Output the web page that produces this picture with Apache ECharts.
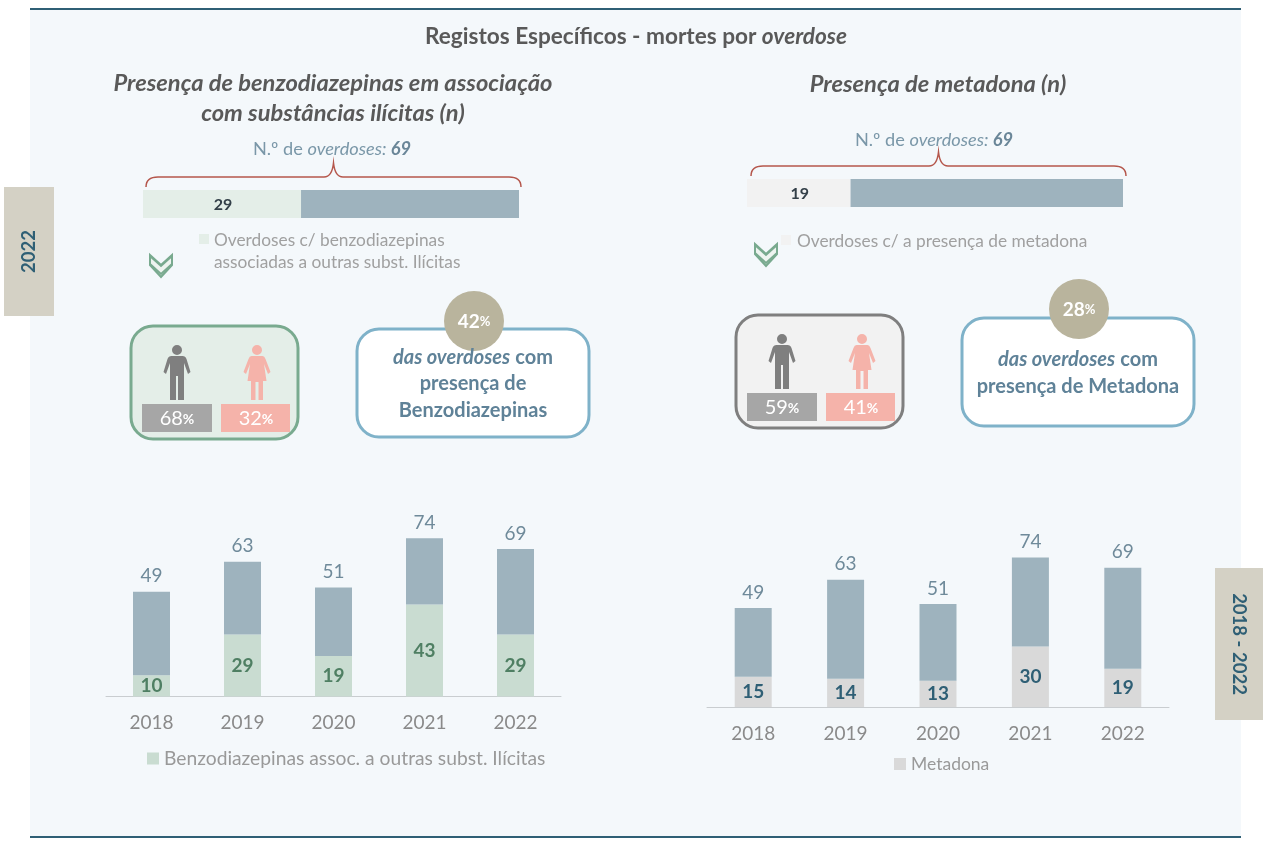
<!DOCTYPE html>
<html lang="pt">
<head>
<meta charset="utf-8">
<title>Registos Específicos - mortes por overdose</title>
<script src="https://cdn.jsdelivr.net/npm/echarts@6/dist/echarts.min.js"></script>
<style>
  html, body { margin: 0; padding: 0; background: #fff; }
  #chart { width: 1263px; height: 843px; }
</style>
</head>
<body>
<div id="chart"></div>
<script>
const years = ['2018', '2019', '2020', '2021', '2022'];
const totals = [49, 63, 51, 74, 69];
const benzo = [10, 29, 19, 43, 29];
const benzoRest = [39, 34, 32, 31, 40];
const metadona = [15, 14, 13, 30, 19];
const metadonaRest = [34, 49, 38, 44, 50];

const benzo2022 = [29];
const benzo2022Rest = [40];
const metadona2022 = [19];
const metadona2022Rest = [50];

const benzoName = 'Benzodiazepinas assoc. a outras subst. Ilícitas';
const metadonaName = 'Metadona';

const FONT = 'Lato, "Open Sans", sans-serif';
const BLUE = '#9eb3be';
const TEAL = '#2f5f75';

// the graphic component has no plain path type, so the svg outlines get registered as shapes
const shapes = {
  man: 'M13.5 0a5 5 0 1 0 .01 0ZM8 11H19Q22 11 23 14L27 27L24.5 29L20.5 18V55H14.5V31H12.5V55H6.5V18L2.5 29L0 27L4 14Q5 11 8 11Z',
  woman: 'M13.5 0a5 5 0 1 0 .01 0ZM8 11H19Q21 11 22 14L27 27L24.5 29L20.5 19L23 36H19.5V55H15V37H12V55H7.5V36H4L6.5 19L2.5 29L0 27L5 14Q6 11 8 11Z',
  brace: 'M0 24Q0 14 12 14H178Q186 14 187.5 0Q189 14 197 14H363Q375 14 375 24',
  chevronTop: 'M1 1L12 11L23 1V11L12 23L1 11Z',
  chevronBottom: 'M1 2V10L12 20L23 10V2L12 12Z',
};
Object.keys(shapes).forEach((name) => {
  echarts.graphic.registerShape(name, echarts.graphic.extendPath(shapes[name]));
});

// helpers for the decoration around the charts
const rect = (x, y, width, height, fill, extra) => ({
  type: 'rect',
  shape: { x, y, width, height, r: (extra && extra.r) || 0 },
  style: { fill, stroke: extra && extra.stroke, lineWidth: (extra && extra.lineWidth) || 0 },
  z: (extra && extra.z) || 10,
});
const text = (x, y, str, font, fill, align, rich) => ({
  type: 'text',
  x,
  y,
  z: 20,
  style: {
    text: str,
    font: font + ' ' + FONT,
    fill,
    align: align || 'center',
    verticalAlign: 'middle',
    rich,
  },
});
const path = (x, y, type, style) => ({
  type,
  x,
  y,
  z: 12,
  shape: {},
  style,
});
const sideTab = (x, y, w, h, str, rotation) => [
  rect(x, y, w, h, '#d4d1c5'),
  Object.assign(text(x + w / 2, y + h / 2, str, 'bold 18.5px', TEAL), { rotation }),
];
const brace = (x, y) => path(x, y, 'brace', {
  fill: 'none',
  stroke: '#b5574c',
  lineWidth: 1.5,
});
const chevron = (x, y) => [
  path(x, y, 'chevronTop', { fill: '#e4eee8', stroke: '#79aa8f', lineWidth: 2 }),
  path(x, y, 'chevronBottom', { fill: '#eef4f0', stroke: '#79aa8f', lineWidth: 2 }),
];
const genderBox = (x, y, w, h, fill, stroke, manX, womanX, iconY, tileY, greyX, pinkX, manPct, womanPct) => {
  const pctRich = {
    n: { font: '20px ' + FONT, fill: '#fff' },
    p: { font: 'bold 14px ' + FONT, fill: '#fff' },
  };
  return [
    rect(x, y, w, h, fill, { r: 22, stroke, lineWidth: 3 }),
    path(manX - 13.5, iconY, 'man', { fill: '#7f7f7f' }),
    path(womanX - 13.5, iconY, 'woman', { fill: '#f5b3aa' }),
    rect(greyX, tileY, 70, 28, '#a6a6a6'),
    rect(pinkX, tileY, 69, 28, '#f5b3aa'),
    text(greyX + 35, tileY + 15, '{n|' + manPct + '}{p|%}', '20px', '#fff', 'center', pctRich),
    text(pinkX + 35, tileY + 15, '{n|' + womanPct + '}{p|%}', '20px', '#fff', 'center', pctRich),
  ];
};
const callout = (x, y, w, h, cx, cy, pct, lines, lineY) => {
  const rich = {
    i: { font: 'italic bold 20px ' + FONT, fill: '#5f8298' },
    b: { font: 'bold 20px ' + FONT, fill: '#5f8298' },
  };
  const pctRich = {
    n: { font: 'bold 19px ' + FONT, fill: '#fff' },
    p: { font: 'bold 13px ' + FONT, fill: '#fff' },
  };
  return [
    rect(x, y, w, h, '#fff', { r: 22, stroke: '#7fb2c9', lineWidth: 3 }),
    {
      type: 'circle',
      z: 15,
      shape: { cx, cy, r: 30 },
      style: { fill: '#b9b49d' },
    },
    text(cx, cy + 1, '{n|' + pct + '}{p|%}', '19px', '#fff', 'center', pctRich),
    ...lines.map((line, i) => text(x + w / 2, lineY[i], line, '20px', '#5f8298', 'center', rich)),
  ];
};

const overdoseRich = {
  a: { font: '18.2px ' + FONT, fill: '#7a97a8' },
  i: { font: 'italic 18.2px ' + FONT, fill: '#7a97a8' },
  b: { font: 'italic bold 18.2px ' + FONT, fill: '#6a8698' },
};
const titleRich = {
  a: { font: 'bold 22.6px ' + FONT, fill: '#595959' },
  i: { font: 'italic bold 22.6px ' + FONT, fill: '#595959' },
};
const SUB = 'italic bold 23.7px';
const NOTE = '17.3px';

const graphics = [
  rect(30, 9, 1211, 828, '#f4f8fb', { z: -10 }),
  rect(30, 8, 1211, 2, TEAL),
  rect(30, 836, 1211, 2, TEAL),
  ...sideTab(4, 187, 50, 129, '2022', Math.PI / 2),
  ...sideTab(1215, 568, 48, 152, '2018 - 2022', -Math.PI / 2),

  text(636, 37, '{a|Registos Específicos - mortes por }{i|overdose}', '22.6px', '#595959', 'center', titleRich),
  text(333, 83, 'Presença de benzodiazepinas em associação', SUB, '#595959'),
  text(333, 113, 'com substâncias ilícitas (n)', SUB, '#595959'),
  text(938, 84, 'Presença de metadona (n)', SUB, '#595959'),

  text(332, 149, '{a|N.º de }{i|overdoses: }{b|69}', '18.2px', '#7a97a8', 'center', overdoseRich),
  text(934, 140, '{a|N.º de }{i|overdoses: }{b|69}', '18.2px', '#7a97a8', 'center', overdoseRich),
  brace(146, 163),
  brace(751, 152),

  rect(199, 234, 10, 10, '#e4eee8'),
  text(214, 240, 'Overdoses c/ benzodiazepinas', NOTE, '#a0a0a0', 'left'),
  text(214, 262, 'associadas a outras subst. Ilícitas', NOTE, '#a0a0a0', 'left'),
  rect(781, 235, 10, 10, '#f2f2f2'),
  text(797, 241, 'Overdoses c/ a presença de metadona', NOTE, '#a0a0a0', 'left'),
  ...chevron(149, 254),
  ...chevron(754, 243),

  ...genderBox(131, 326, 167, 113, '#e4eee8', '#79aa8f', 177, 257, 345, 404, 142, 221, '68', '32'),
  ...genderBox(736, 315, 167, 113, '#f2f2f2', '#7f7f7f', 782, 862, 334, 393, 747, 826, '59', '41'),

  ...callout(357, 329, 232, 108, 474, 321, '42',
    ['{i|das overdoses} {b|com}', '{b|presença de}', '{b|Benzodiazepinas}'], [358, 384, 411]),
  ...callout(962, 318, 232, 108, 1079, 309, '28',
    ['{i|das overdoses} {b|com}', '{b|presença de Metadona}'], [360, 387]),
];

// horizontal 100% bar (2022)
const hBar = (index, name, data, color, withLabel) => ({
  name,
  type: 'bar',
  stack: 'h' + index,
  xAxisIndex: index,
  yAxisIndex: index,
  barWidth: '100%',
  data,
  silent: true,
  itemStyle: { color },
  label: {
    show: withLabel,
    position: 'inside',
    offset: [1, 1],
    color: '#333f48',
    fontFamily: FONT,
    fontWeight: 'bold',
    fontSize: 16,
  },
});
// yearly stacked columns
const columnPair = (index, name, data, rest, color, labelColor) => [
  {
    name,
    type: 'bar',
    stack: 'c' + index,
    xAxisIndex: index,
    yAxisIndex: index,
    barWidth: 37,
    data,
    itemStyle: { color },
    label: {
      show: true,
      position: 'inside',
      color: labelColor,
      fontFamily: FONT,
      fontWeight: 'bold',
      fontSize: 19,
    },
  },
  {
    name: name + ' total',
    type: 'bar',
    stack: 'c' + index,
    xAxisIndex: index,
    yAxisIndex: index,
    barWidth: 37,
    data: rest,
    itemStyle: { color: BLUE },
    label: {
      show: true,
      position: 'top',
      distance: 6,
      color: '#6f8a9a',
      fontFamily: FONT,
      fontSize: 19,
      formatter: (p) => totals[p.dataIndex],
    },
  },
];
const columnX = (gridIndex) => ({
  type: 'category',
  gridIndex,
  data: years,
  axisTick: { show: false },
  axisLine: { lineStyle: { color: '#c9cdd0', width: 1 } },
  axisLabel: { color: '#8a8a8a', fontFamily: FONT, fontSize: 19, margin: 17 },
});
const columnY = (gridIndex) => ({
  type: 'value',
  gridIndex,
  min: 0,
  max: 80,
  show: false,
  splitLine: { show: false },
});
const legendFor = (name, left, top, fontSize) => ({
  data: [name],
  left,
  top,
  icon: 'rect',
  itemWidth: 12,
  itemHeight: 12,
  itemGap: 0,
  selectedMode: false,
  padding: 0,
  textStyle: { color: '#999', fontFamily: FONT, fontSize },
});

const chart = echarts.init(document.getElementById('chart'));
chart.setOption({
  animation: false,
  backgroundColor: '#fff',
  graphic: { elements: graphics },
  legend: [
    legendFor(benzoName, 147, 749, 19.25),
    legendFor(metadonaName, 894, 755, 17.5),
  ],
  grid: [
    { left: 143, top: 190, width: 376, height: 28 },
    { left: 747, top: 179, width: 376, height: 28 },
    { left: 106, top: 525.5, width: 455, height: 171 },
    { left: 707, top: 545.5, width: 462, height: 161.5 },
  ],
  xAxis: [
    { type: 'value', gridIndex: 0, min: 0, max: 69, show: false },
    { type: 'value', gridIndex: 1, min: 0, max: 69, show: false },
    columnX(2),
    columnX(3),
  ],
  yAxis: [
    { type: 'category', gridIndex: 0, data: ['2022'], show: false },
    { type: 'category', gridIndex: 1, data: ['2022'], show: false },
    columnY(2),
    columnY(3),
  ],
  series: [
    hBar(0, 'Overdoses c/ benzodiazepinas', benzo2022, '#e4eee8', true),
    hBar(0, 'Restantes overdoses A', benzo2022Rest, BLUE, false),
    hBar(1, 'Overdoses c/ a presença de metadona', metadona2022, '#f2f2f2', true),
    hBar(1, 'Restantes overdoses B', metadona2022Rest, BLUE, false),
    ...columnPair(2, benzoName, benzo, benzoRest, '#c9dcd1', '#4f7f63'),
    ...columnPair(3, metadonaName, metadona, metadonaRest, '#d9d9d9', TEAL),
  ],
});

window.addEventListener('resize', () => {
  chart.resize();
});
</script>
</body>
</html>
